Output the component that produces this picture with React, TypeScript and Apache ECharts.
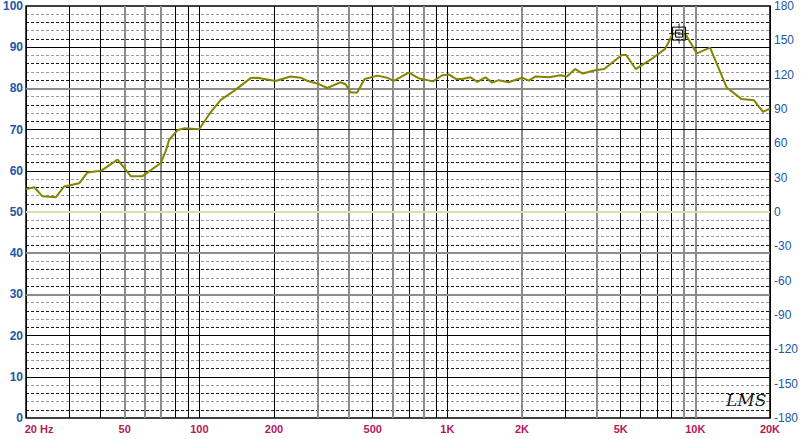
import React, { useEffect, useRef } from 'react';
import * as echarts from 'echarts';

// Frequency response (SPL)
const freqHz = [20, 21.6, 23.3, 26.4, 28.5, 32.8, 35.4, 40.1, 46.8, 52.9, 59, 69.9, 73.3, 75.5, 81.7, 86.8, 99.8, 111, 122, 138, 161, 171, 203, 233, 256, 273, 299, 328, 371, 389, 407, 433, 464, 523, 572, 608, 699, 772, 875, 955, 1013, 1083, 1147, 1239, 1322, 1424, 1515, 1611, 1767, 2001, 2128, 2274, 2578, 2855, 3036, 3278, 3516, 3949, 4293, 5056, 5262, 5747, 6574, 7556, 8100, 8446, 9182, 10138, 11466, 12068, 13386, 15358, 17244, 18742, 20000];
const splDb = [55.6, 56.0, 53.8, 53.6, 56.2, 57.0, 59.6, 60.0, 62.7, 58.7, 58.7, 61.9, 64.9, 67.5, 69.9, 70.3, 70.1, 74.2, 77.2, 79.4, 82.5, 82.6, 81.8, 82.9, 82.6, 81.8, 81.2, 80.1, 81.5, 81.0, 79.0, 79.0, 82.3, 83.1, 82.6, 81.8, 83.8, 82.4, 81.7, 83.2, 83.4, 82.3, 82.3, 82.7, 81.6, 82.7, 81.4, 82.0, 81.5, 82.6, 81.9, 82.9, 82.7, 83.2, 82.9, 84.7, 83.6, 84.4, 84.7, 88.1, 88.1, 84.7, 86.9, 89.6, 93.2, 93.5, 92.9, 88.5, 89.9, 86.7, 80.2, 77.4, 77.1, 74.3, 75.1];

// Phase trace (flat at 0 degrees)
const phaseFreq = [20, 20000];
const phaseDeg = [0, 0];

// Vertical grid lines and their tone (true = dark)
const gridFreqs = [30, 40, 50, 60, 70, 80, 90, 100, 200, 300, 400, 500, 600, 700, 800, 900, 1000, 2000, 3000, 4000, 5000, 6000, 7000, 8000, 9000, 10000];
const gridDark = [true, true, false, false, false, true, true, true, true, false, false, true, false, true, false, true, true, false, true, false, true, true, true, true, false, false];

// Frequency tick labels
const labelFreqs = [20, 50, 100, 200, 500, 1000, 2000, 5000, 10000, 20000];
const labelTexts = ['20 Hz', '50', '100', '200', '500', '1K', '2K', '5K', '10K', '20K'];

// Major horizontal lines (dB) and tone
const dbLines = [10, 20, 30, 40, 60, 70, 80, 90];
const dbDark = [true, true, false, false, true, true, false, true];

// Cursor marker
const cursorFreq = 8600;
const cursorDb = 93.3;

const BLUE = '#2456a6';
const RED = '#b3195a';
const FONT = 'Liberation Sans, Arial, sans-serif';

export default function App() {
  const ref = useRef<HTMLDivElement>(null);
  useEffect(() => {
    document.body.style.margin = '0';
    if (!ref.current) return;
    const chart = echarts.init(ref.current, undefined, { renderer: 'svg' });

    const labelStyle = {
      color: RED,
      fontWeight: 'bold' as const,
      fontSize: 11,
      fontFamily: FONT,
    };

    const vLines: any[] = gridFreqs.map((f, i) => {
      const li = labelFreqs.indexOf(f);
      return {
        xAxis: f,
        lineStyle: gridDark[i]
          ? { color: '#000', width: 1, type: 'solid' }
          : { color: '#8c8c8c', width: 2, type: 'solid' },
        label:
          li >= 0
            ? { show: true, position: 'start', distance: 5, formatter: labelTexts[li], ...labelStyle }
            : { show: false },
      };
    });
    // edge labels (lines coincide with the plot border)
    [20, 20000].forEach((f) => {
      const li = labelFreqs.indexOf(f);
      vLines.push({
        xAxis: f,
        lineStyle: { color: '#000', width: 1, type: 'solid' },
        label: {
          show: true,
          position: 'start',
          distance: 5,
          formatter: labelTexts[li],
          ...labelStyle,
          padding: f === 20 ? [0, 0, 0, 26] : [0, 0, 0, 0],
        },
      });
    });

    const hLines = dbLines.map((v, i) => ({
      yAxis: v,
      lineStyle: dbDark[i]
        ? { color: '#000', width: 1, type: 'solid' }
        : { color: '#8c8c8c', width: 2, type: 'solid' },
      label: { show: false },
    }));

    chart.setOption({
      animation: false,
      backgroundColor: '#fff',
      grid: {
        left: 25,
        top: 5,
        right: 31,
        bottom: 21,
        show: true,
        borderColor: '#000',
        borderWidth: 1.5,
        backgroundColor: 'transparent',
      },
      xAxis: {
        type: 'log',
        logBase: 10,
        min: 20,
        max: 20000,
        axisLabel: { show: false },
        axisTick: { show: false },
        axisLine: { show: false },
        splitLine: { show: false },
        minorSplitLine: { show: false },
      },
      yAxis: [
        {
          type: 'value',
          min: 0,
          max: 100,
          interval: 10,
          position: 'left',
          axisLabel: {
            color: BLUE,
            fontWeight: 'bold',
            fontSize: 12,
            fontFamily: FONT,
            margin: 3,
          },
          axisTick: { show: false },
          axisLine: { show: false },
          splitLine: { show: false },
        },
        {
          type: 'value',
          min: 0,
          max: 100,
          interval: 2,
          position: 'left',
          axisLabel: { show: false },
          axisTick: { show: false },
          axisLine: { show: false },
          splitLine: {
            show: true,
            lineStyle: {
              color: ['rgba(0,0,0,0)', '#1a1a1a', '#9a9a9a', '#1a1a1a', '#9a9a9a'],
              width: 1,
              type: [3, 2],
            },
          },
        },
        {
          type: 'value',
          min: -180,
          max: 180,
          interval: 30,
          position: 'right',
          axisLabel: {
            color: BLUE,
            fontSize: 12,
            fontFamily: FONT,
            margin: 4,
          },
          axisTick: { show: false },
          axisLine: { show: false },
          splitLine: { show: false },
        },
      ],
      series: [
        {
          type: 'line',
          name: 'phase',
          yAxisIndex: 2,
          z: 2,
          silent: true,
          symbol: 'none',
          data: phaseFreq.map((f, i) => [f, phaseDeg[i]]),
          lineStyle: { color: '#dcdcb2', width: 2 },
          markLine: {
            silent: true,
            z: 1,
            symbol: ['none', 'none'],
            animation: false,
            data: vLines,
          },
        },
        {
          type: 'line',
          name: 'SPL',
          yAxisIndex: 0,
          z: 3,
          silent: true,
          symbol: 'none',
          data: freqHz.map((f, i) => [f, splDb[i]]),
          lineStyle: { color: '#848400', width: 2 },
          markLine: {
            silent: true,
            z: 1,
            symbol: ['none', 'none'],
            animation: false,
            data: hLines,
          },
          markPoint: {
            silent: true,
            z: 6,
            animation: false,
            label: { show: false },
            data: [
              {
                coord: [cursorFreq, cursorDb],
                symbol: 'rect',
                symbolSize: 13,
                itemStyle: { color: 'rgba(0,0,0,0)', borderColor: '#000', borderWidth: 1 },
              },
              {
                coord: [cursorFreq, cursorDb],
                symbol: 'rect',
                symbolSize: 7,
                itemStyle: { color: 'rgba(0,0,0,0)', borderColor: '#000', borderWidth: 1 },
              },
              {
                coord: [cursorFreq, cursorDb],
                symbol: 'path://M0,-10V-5M0,5V10M-10,0H-5M5,0H10',
                symbolSize: 20,
                itemStyle: { color: 'rgba(0,0,0,0)', borderColor: '#222', borderWidth: 1 },
              },
              {
                coord: [cursorFreq, cursorDb],
                symbol: 'circle',
                symbolSize: 3,
                itemStyle: { color: '#3a50d0' },
              },
            ],
          },
        },
      ],
      graphic: [
        {
          type: 'text',
          left: 726,
          top: 391,
          silent: true,
          style: {
            text: 'LMS',
            fontFamily: 'DejaVu Serif, serif',
            fontStyle: 'italic',
            fontSize: 17,
            fill: '#111',
          },
        },
      ],
    });
    return () => chart.dispose();
  }, []);
  return <div ref={ref} style={{ position: 'absolute', left: 0, top: 0, width: 801, height: 439 }} />;
}
